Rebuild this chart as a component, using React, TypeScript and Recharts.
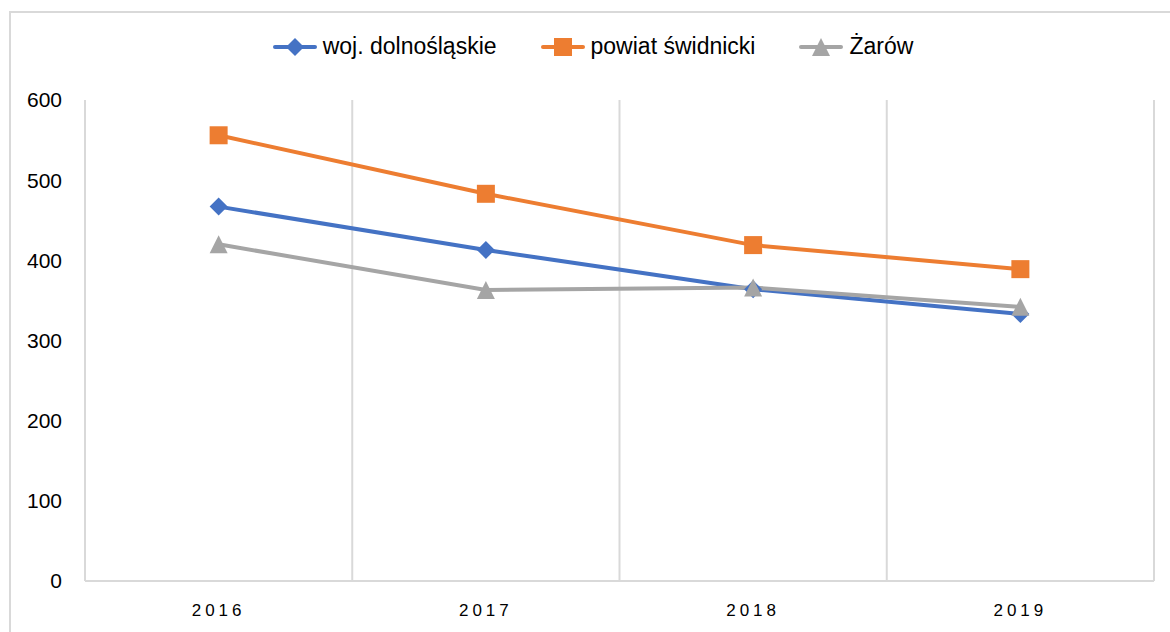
import React from 'react';
import { LineChart, Line, XAxis, YAxis, CartesianGrid } from 'recharts';

const years = ['2016', '2017', '2018', '2019'];
const wojValues = [467, 413, 364, 333];
const powiatValues = [556, 483, 419, 389];
const zarowValues = [420, 363, 366, 342];
const yTicks = [0, 100, 200, 300, 400, 500, 600];

const BLUE = '#4472C4';
const ORANGE = '#ED7D31';
const GRAY = '#A5A5A5';
const GRID = '#D9D9D9';
const FONT = '"Liberation Sans", Arial, sans-serif';

const data = years.map((year, i) => ({
  year,
  woj: wojValues[i],
  powiat: powiatValues[i],
  zarow: zarowValues[i],
}));

const M = 9; // half marker size

function Diamond({ cx, cy, fill }: { cx: number; cy: number; fill: string }) {
  return <path d={`M${cx},${cy - M} L${cx + M},${cy} L${cx},${cy + M} L${cx - M},${cy} Z`} fill={fill} />;
}

function Square({ cx, cy, fill }: { cx: number; cy: number; fill: string }) {
  return <rect x={cx - M} y={cy - M} width={2 * M} height={2 * M} fill={fill} />;
}

function Triangle({ cx, cy, fill }: { cx: number; cy: number; fill: string }) {
  return <path d={`M${cx},${cy - M} L${cx + M},${cy + M} L${cx - M},${cy + M} Z`} fill={fill} />;
}

const series = [
  { key: 'woj', name: 'woj. dolnośląskie', color: BLUE, Marker: Diamond },
  { key: 'powiat', name: 'powiat świdnicki', color: ORANGE, Marker: Square },
  { key: 'zarow', name: 'Żarów', color: GRAY, Marker: Triangle },
];

function ChartLegend() {
  return (
    <div
      style={{
        position: 'absolute',
        top: 33,
        left: 0,
        width: 1186,
        display: 'flex',
        justifyContent: 'center',
        gap: 44,
        fontFamily: FONT,
        fontSize: 23,
        color: '#000',
        zIndex: 1,
      }}
    >
      {series.map((s) => (
        <div key={s.key} style={{ display: 'flex', alignItems: 'center' }}>
          <svg width={44} height={22} style={{ marginRight: 6 }}>
            <line x1={2} y1={11} x2={42} y2={11} stroke={s.color} strokeWidth={4} strokeLinecap="round" />
            <s.Marker cx={22} cy={11} fill={s.color} />
          </svg>
          <span>{s.name}</span>
        </div>
      ))}
    </div>
  );
}

export default function App() {
  return (
    <div style={{ position: 'absolute', left: 0, top: 0, width: 1170, height: 632, background: '#fff', overflow: 'hidden' }}>
      <div style={{ position: 'absolute', left: 9, top: 11, right: -10, bottom: -10, borderLeft: `2px solid ${GRID}`, borderTop: `2px solid ${GRID}` }} />
      <ChartLegend />
      <LineChart width={1170} height={632} data={data} margin={{ top: 100, right: 16, bottom: 0, left: 0 }}>
        <CartesianGrid
          horizontal={false}
          stroke={GRID}
          strokeWidth={2}
          verticalCoordinatesGenerator={({ offset }: any) =>
            years.map((_, i) => offset.left + (offset.width * i) / years.length).concat(offset.left + offset.width)
          }
        />
        <XAxis
          dataKey="year"
          scale="band"
          height={51}
          axisLine={{ stroke: GRID, strokeWidth: 2 }}
          tickLine={false}
          tickSize={0}
          tickMargin={23}
          tick={{ fill: '#000', fontSize: 17, letterSpacing: 4, fontFamily: FONT }}
        />
        <YAxis
          width={85}
          domain={[0, 600]}
          ticks={yTicks}
          axisLine={false}
          tickLine={false}
          tickSize={0}
          tickMargin={23}
          tick={{ fill: '#000', fontSize: 21, fontFamily: FONT }}
        />
        {series.map((s) => (
          <Line
            key={s.key}
            dataKey={s.key}
            name={s.name}
            stroke={s.color}
            strokeWidth={4}
            isAnimationActive={false}
            dot={(p: any) => <s.Marker key={`${s.key}-${p.index}`} cx={p.cx} cy={p.cy} fill={s.color} />}
            activeDot={false}
          />
        ))}
      </LineChart>
    </div>
  );
}
